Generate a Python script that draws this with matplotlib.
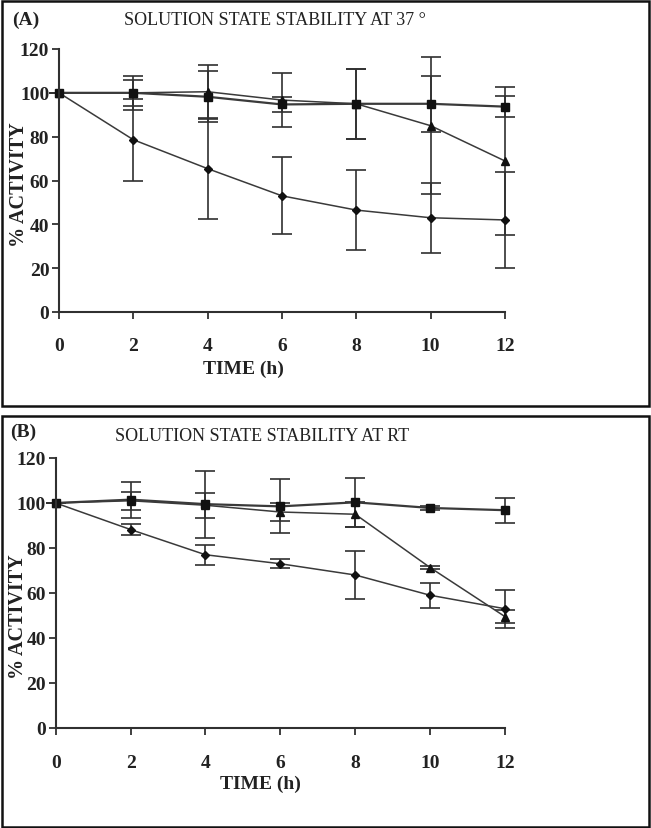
import numpy as np
import matplotlib.pyplot as plt
from matplotlib.patches import Rectangle

# time points (h)
time = [0, 2, 4, 6, 8, 10, 12]

# panel A - solution state stability at 37 degrees
a_square = [100, 100, 98.2, 94.7, 95, 95, 93.7]
a_square_err = [0, 7.7, 11.6, 3.5, 16, 12.7, 4.8]
a_triangle = [100, 100, 100.5, 96.7, 95, 85, 68.9]
a_triangle_err = [0, 6, 12, 12.2, 16, 31.2, 33.6]
a_diamond = [100, 78.6, 65.4, 53, 46.5, 43, 42]
a_diamond_err = [0, 18.6, 22.8, 17.5, 18.3, 16, 22]

# panel B - solution state stability at RT
b_square = [100, 101.5, 99.5, 98.5, 100.3, 97.8, 96.8]
b_square_err = [0, 8, 14.9, 12, 11, 0.8, 5.5]
b_triangle = [100, 101, 99, 96, 95, 71.3, 49.5]
b_triangle_err = [0, 4, 5.5, 4, 5.5, 0.8, 3]
b_diamond = [100, 88.2, 77, 73, 68, 59, 53]
b_diamond_err = [0, 2.6, 4.5, 2, 10.8, 5.6, 8.5]

yticks = [0, 20, 40, 60, 80, 100, 120]
xticks = [0, 2, 4, 6, 8, 10, 12]

plt.rcParams['font.family'] = ['Liberation Serif', 'DejaVu Serif']

fig = plt.figure(figsize=(6.51, 8.29), dpi=100)

line_col = '#3a3a3a'


def draw_panel(ax, sq, sq_e, tr, tr_e, di, di_e, ylab_pos, xlab_pos, xpad):
    kw = dict(color=line_col, ecolor='#303030', elinewidth=1.2, capsize=7,
              capthick=1.2, clip_on=False)
    ax.errorbar(time, di, yerr=di_e, marker='D', markersize=4, lw=1.1,
                mfc='#111111', mec='#111111', **kw)
    ax.errorbar(time, tr, yerr=tr_e, marker='^', markersize=6, lw=1.1,
                mfc='#111111', mec='#111111', **kw)
    ax.errorbar(time, sq, yerr=sq_e, marker='s', markersize=6, lw=1.6,
                mfc='#111111', mec='#111111', **kw)
    for c in ax.lines + ax.collections:
        c.set_clip_on(False)
    ax.set_xlim(0, 12)
    ax.set_ylim(0, 120)
    ax.set_xticks(xticks)
    ax.set_yticks(yticks)
    ax.spines['top'].set_visible(False)
    ax.spines['right'].set_visible(False)
    for s in ['left', 'bottom']:
        ax.spines[s].set_linewidth(1.5)
        ax.spines[s].set_color('#303030')
    ax.tick_params(axis='y', direction='out', length=5, width=1.3, pad=2,
                   labelsize=14, colors='#303030', labelcolor='#222222')
    ax.tick_params(axis='x', direction='out', length=5, width=1.3, pad=xpad,
                   labelsize=14, colors='#303030', labelcolor='#222222')
    for lab in ax.get_xticklabels() + ax.get_yticklabels():
        lab.set_fontweight('bold')
    ax.set_ylabel('% ACTIVITY', fontsize=14.5, fontweight='bold', color='#222222')
    ax.yaxis.set_label_coords(*ylab_pos)
    ax.set_xlabel('TIME (h)', fontsize=14, fontweight='bold', color='#222222')
    ax.xaxis.set_label_coords(*xlab_pos)


ax_a = fig.add_axes([59 / 651, 1 - 313 / 829, 446 / 651, 263 / 829])
draw_panel(ax_a, a_square, a_square_err, a_triangle, a_triangle_err,
           a_diamond, a_diamond_err, (-0.068, 0.487), (0.413, -0.18), 13)

ax_b = fig.add_axes([55.7 / 651, 1 - 729 / 829, 449.3 / 651, 270 / 829])
draw_panel(ax_b, b_square, b_square_err, b_triangle, b_triangle_err,
           b_diamond, b_diamond_err, (-0.062, 0.415), (0.455, -0.172), 14)

# titles and panel letters
fig.text(0.4224, 0.9747, 'SOLUTION STATE STABILITY AT 37 \u00b0', fontsize=13,
         ha='center', va='center', color='#222222')
fig.text(0.040, 0.976, '(A)', fontsize=14, fontweight='bold',
         ha='center', va='center', color='#222222')
fig.text(0.402, 0.473, 'SOLUTION STATE STABILITY AT RT', fontsize=13,
         ha='center', va='center', color='#222222')
fig.text(0.035, 0.478, '(B)', fontsize=14, fontweight='bold',
         ha='center', va='center', color='#222222')

# panel frames
fig.patches.append(Rectangle((1.5 / 651, 1 - 407 / 829), 647 / 651, 405 / 829,
                             transform=fig.transFigure, fill=False,
                             lw=1.8, ec='#111111'))
fig.patches.append(Rectangle((1.5 / 651, 1 - 827.5 / 829), 647 / 651, 410.5 / 829,
                             transform=fig.transFigure, fill=False,
                             lw=1.8, ec='#111111'))

fig.savefig('out.png', dpi=100)
